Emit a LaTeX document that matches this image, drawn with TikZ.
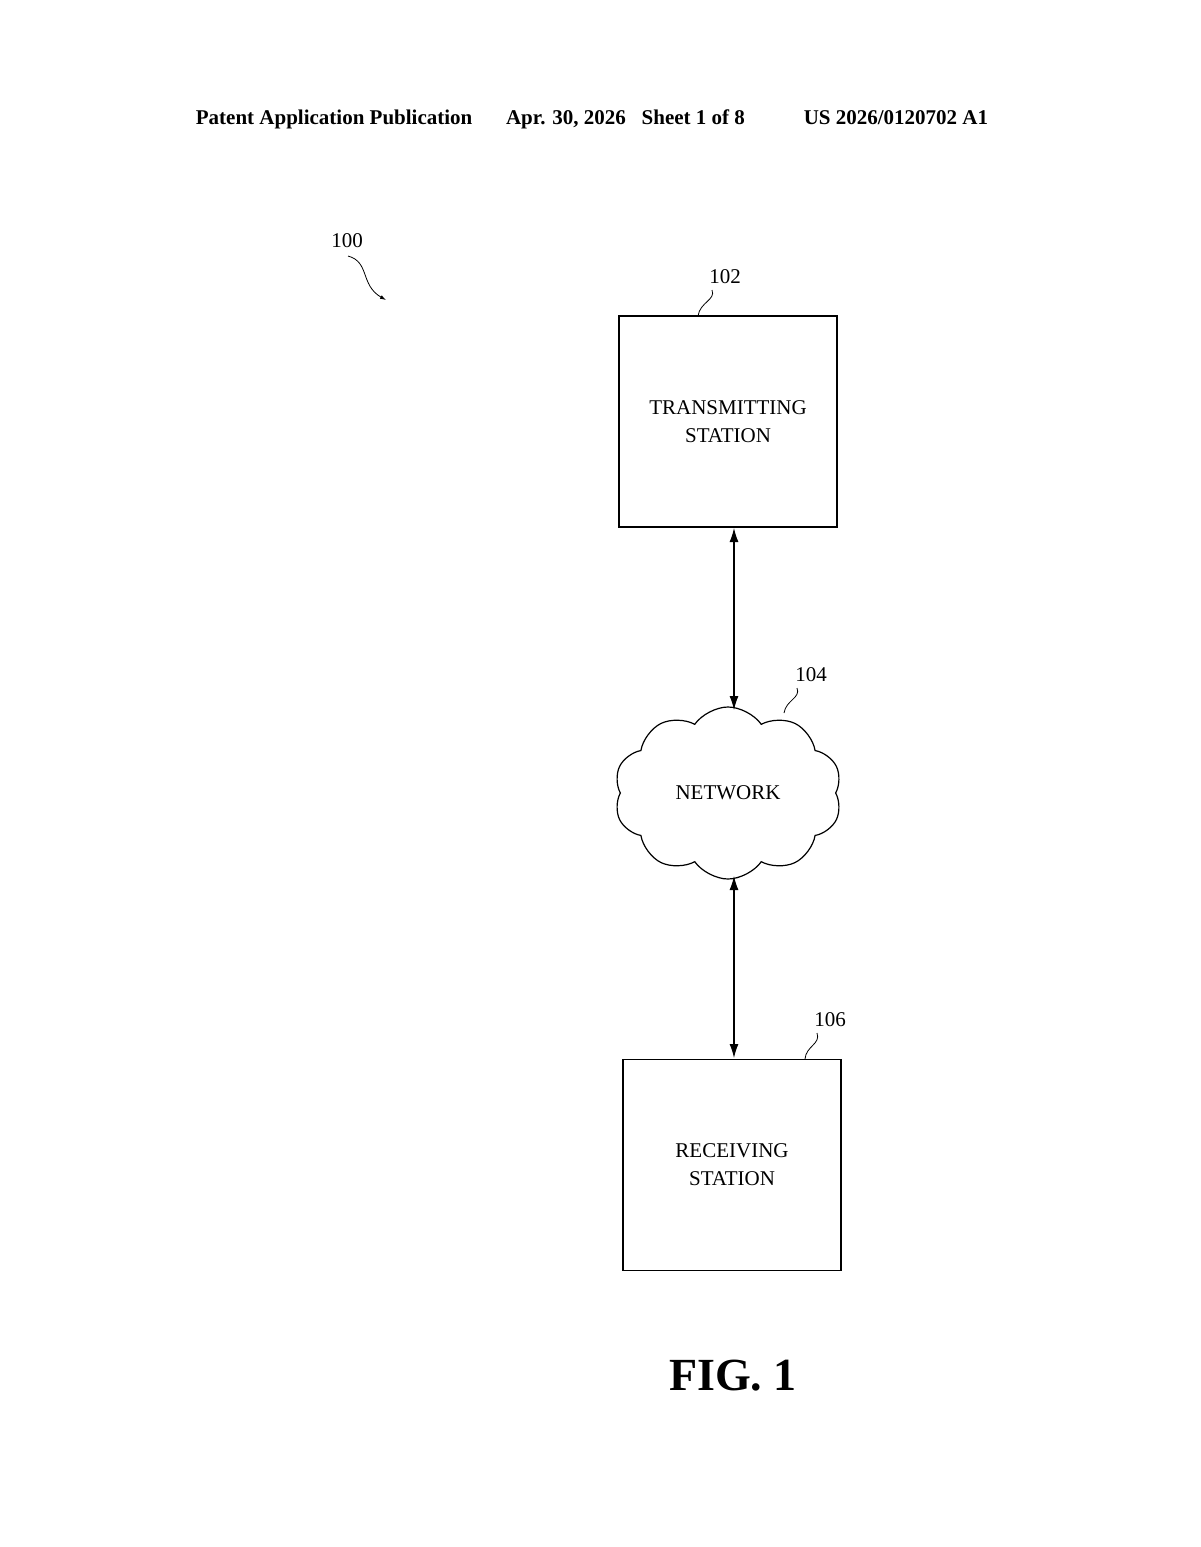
\documentclass[tikz,border=0pt]{standalone}
\usepackage{fontspec}
\setmainfont{Liberation Serif}
\usetikzlibrary{shapes.symbols,arrows.meta}
\begin{document}
\begin{tikzpicture}[x=1pt,y=-1pt,
  box/.style={draw,line width=1.2pt,minimum width=218pt,minimum height=211pt,align=center,font=\fontsize{21}{28}\selectfont,inner sep=0},
  lbl/.style={font=\fontsize{21}{24}\selectfont},
  lead/.style={line width=0.8pt},
  conn/.style={line width=1.2pt,{Latex[length=14pt,width=9pt]}-{Latex[length=14pt,width=9pt]}}]
\useasboundingbox (0,0) rectangle (1200,1547);
\node[font=\bfseries\fontsize{21}{24}\selectfont] (hdr) at (592,119) {Patent Application Publication\hspace{1.6em}Apr. 30, 2026\hspace{0.5em} Sheet 1 of 8\hspace{2.8em}US 2026/0120702 A1};
\node[box] (tx) at (728,421.5) {TRANSMITTING\\STATION};
\node[box] (rx) at (732,1165) {RECEIVING\\STATION};
\node[cloud,draw,line width=1.2pt,cloud puffs=10,cloud puff arc=110,aspect=1.35,minimum width=228pt,minimum height=172pt,inner sep=0,font=\fontsize{21}{24}\selectfont] (net) at (728,793) {NETWORK};
\coordinate (a1) at (734,528);
\coordinate (a2) at (734,710);
\coordinate (a3) at (734,876);
\coordinate (a4) at (734,1058);
\draw[conn] (a1) -- (a2);
\draw[conn] (a3) -- (a4);
\node[lbl] (l100) at (347,241) {100};
\node[lbl] (l102) at (725,277) {102};
\node[lbl] (l104) at (811,675) {104};
\node[lbl] (l106) at (830,1020) {106};
\coordinate (e100) at (386,300);
\coordinate (e102) at (698,316);
\coordinate (e104) at (784,713);
\coordinate (e106) at (805,1059);
\draw[lead,-{Latex[length=6pt,width=4pt]}] (348,256) .. controls (370,262) and (360,285) .. (e100);
\draw[lead] (712,290) .. controls (716,300) and (700,302) .. (e102);
\draw[lead] (797,688) .. controls (801,698) and (786,700) .. (e104);
\draw[lead] (817,1033) .. controls (821,1044) and (806,1046) .. (e106);
\node[font=\bfseries\fontsize{46}{50}\selectfont] (fig) at (733,1376) {FIG. 1};
\end{tikzpicture}
\end{document}
